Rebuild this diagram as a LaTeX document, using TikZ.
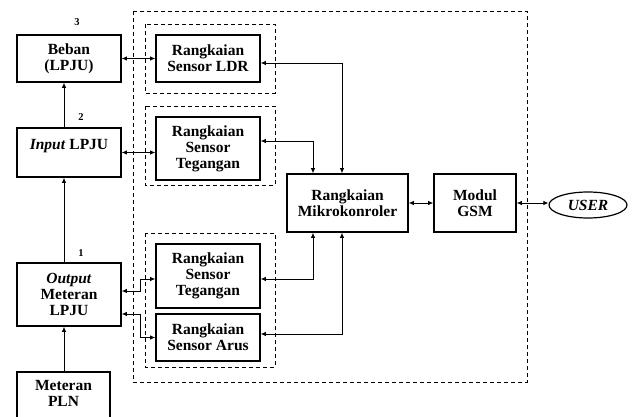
\documentclass[tikz,border=0pt]{standalone}
\usepackage{fontspec}
\setmainfont{Liberation Serif}
\usetikzlibrary{arrows.meta,shapes.geometric}

\begin{document}
\begin{tikzpicture}[x=1pt,y=-1pt,font=\fontsize{15.5}{16}\selectfont\bfseries,
                blok/.style = {draw, line width=1.6pt, inner sep=1pt, align=center, minimum width=104pt},
                grup/.style = {draw, line width=0.8pt, dash pattern=on 4pt off 3pt},
                nomor/.style = {font=\fontsize{10.5}{12}\selectfont\bfseries},
                dua/.style = {line width=0.8pt, {Latex[length=5pt,width=4.5pt]}-{Latex[length=5pt,width=4.5pt]}},
                maju/.style = {line width=0.8pt, -{Latex[length=5pt,width=4.5pt]}}]
                \useasboundingbox (0,0) rectangle (634,417);
                % kelompok (garis putus-putus)
                \draw[grup] (133,11) rectangle (527,382);
                \draw[grup] (145,24) rectangle (275,93);
                \draw[grup] (145,106) rectangle (275,185);
                \draw[grup] (145,233) rectangle (275,367);
                % blok kiri
                \node[blok, minimum height=47pt] (beban) at (69,58.5) {Beban\\(LPJU)};
                \node[blok, minimum height=49pt] (input) at (69,152.5) {\textit{Input} LPJU\\\mbox{}};
                \node[blok, minimum height=63pt] (output) at (69,294.5) {\textit{Output}\\Meteran\\LPJU};
                \node[blok, minimum width=93pt, minimum height=52pt] (pln) at (63.5,398) {Meteran\\PLN\\[-6pt]\mbox{}};
                \node[nomor] (n3) at (77,22) {3};
                \node[nomor] (n2) at (81,117) {2};
                \node[nomor] (n1) at (81,253) {1};
                % sensor
                \node[blok, minimum height=47pt] (ldr) at (208,58.5) {Rangkaian\\Sensor LDR};
                \node[blok, minimum height=63pt] (teg1) at (208,148.5) {Rangkaian\\Sensor\\Tegangan};
                \node[blok, minimum height=64pt] (teg2) at (208,276) {Rangkaian\\Sensor\\Tegangan};
                \node[blok, minimum height=47pt] (arus) at (208,337.5) {Rangkaian\\Sensor Arus};
                % kontrol
                \node[blok, minimum width=121pt, minimum height=58pt] (mikro) at (347.5,203) {Rangkaian\\Mikrokonroler};
                \node[blok, minimum width=82pt, minimum height=58pt] (gsm) at (475,203) {Modul\\GSM};
                \node[draw, ellipse, line width=1.2pt, minimum width=78pt, minimum height=26pt, inner sep=0pt] (user) at (588,205) {\textit{USER}};
                % aliran daya
                \draw[maju] ([xshift=-5pt]pln.north -| output.north) -- ([xshift=-5pt]output.south);
                \draw[maju] ([xshift=-5pt]output.north) -- ([xshift=-5pt]input.south);
                \draw[maju] ([xshift=-5pt]input.north) -- ([xshift=-5pt]beban.south);
                % sensor ke beban
                \draw[dua] (beban.east) -- (ldr.west);
                \draw[dua] (input.east) -- (input.east -| teg1.west);
                \draw[dua] ([yshift=3.5pt]output.east) -- ++(19,0) |- ([yshift=-3pt]teg2.west);
                \draw[dua] ([yshift=-19.5pt]output.east) -- ++(19,0) |- (arus.west);
                % sensor ke mikrokontroler
                \draw[dua] ([xshift=-5.5pt]mikro.north) |- ([yshift=-4.5pt]ldr.east);
                \draw[dua] ([xshift=-34.5pt]mikro.north) |- ([yshift=7.5pt]teg1.east);
                \draw[dua] ([xshift=-34.5pt]mikro.south) |- ([yshift=-3pt]teg2.east);
                \draw[dua] ([xshift=-5.5pt]mikro.south) |- ([yshift=3.5pt]arus.east);
                \draw[dua] (mikro) -- (gsm);
                \draw[dua] (gsm.east) -- (gsm.east -| user.west);
            \end{tikzpicture}
\end{document}
